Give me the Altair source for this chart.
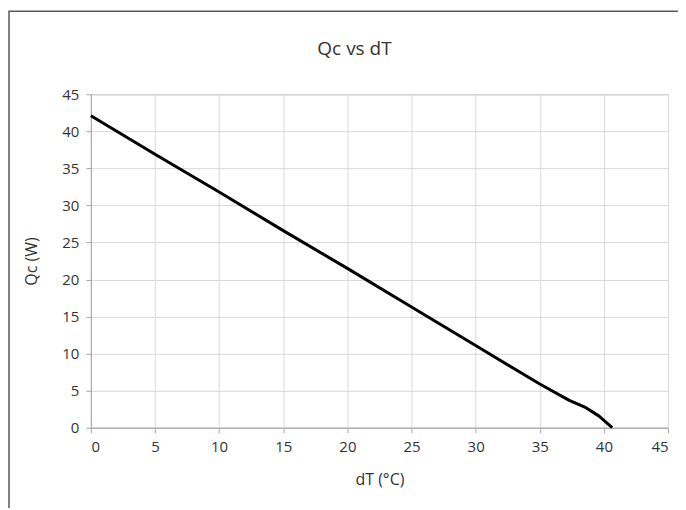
import altair as alt
import pandas as pd

dT = [0, 5, 10, 15, 20, 25, 30, 35, 37.3, 38.6, 39.6, 40.65]
Qc = [42.1, 36.9, 31.8, 26.6, 21.5, 16.3, 11.1, 5.9, 3.7, 2.7, 1.6, 0]
ticks = [0, 5, 10, 15, 20, 25, 30, 35, 40, 45]
title_text = ["Qc vs dT"]

df = pd.DataFrame({"dT": dT, "Qc": Qc})
FONT = "Open Sans"

frame = alt.Chart(pd.DataFrame({"a": [0]})).mark_rect(
    fill=None, stroke="#595959", strokeWidth=1.5, clip=False
).encode(
    x=alt.value(-82), x2=alt.value(700), y=alt.value(-83), y2=alt.value(500)
)

title = alt.Chart(pd.DataFrame({"t": title_text})).mark_text(
    font=FONT, fontSize=19, color="#333", align="center", baseline="middle"
).encode(text="t:N", x=alt.value(264), y=alt.value(-45))

axis_common = dict(grid=True, gridColor="#d9d9d9",
                   domainColor="#a6a6a6", tickColor="#a6a6a6", tickSize=5,
                   labelFont=FONT, labelFontSize=15, labelColor="#333",
                   titleFont=FONT, titleFontSize=16, titleFontWeight="normal",
                   titleColor="#333")

line = alt.Chart(df).mark_line(color="black", strokeWidth=3, strokeJoin="round").encode(
    x=alt.X("dT:Q", title="dT (°C)",
            scale=alt.Scale(domain=[0, 45], nice=False),
            axis=alt.Axis(values=ticks, labelPadding=7, titlePadding=17, **axis_common)),
    y=alt.Y("Qc:Q", title="Qc (W)",
            scale=alt.Scale(domain=[0, 45], nice=False),
            axis=alt.Axis(values=ticks, labelPadding=7, titlePadding=22, **axis_common)),
)

chart = alt.layer(frame, title, line).properties(
    width=578, height=334,
    autosize=alt.AutoSizeParams(type="none"),
    padding={"left": 83, "top": 86, "right": 10, "bottom": 80},
).configure_view(stroke="#a6a6a6")

chart.save("out.html", embed_options={"renderer": "svg", "actions": False})
